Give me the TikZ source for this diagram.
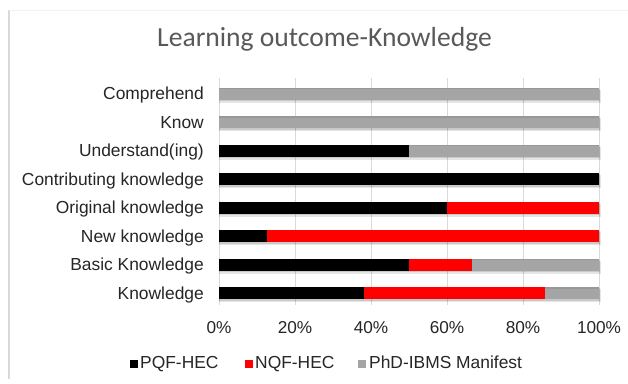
\documentclass[tikz,border=0pt]{standalone}
\usepackage{fontspec}
\setmainfont{Liberation Sans}
\newfontfamily\titlefont{Carlito}
\definecolor{txtgray}{HTML}{262626}
\definecolor{titlegray}{HTML}{595959}
\definecolor{gridgray}{HTML}{D9D9D9}
\definecolor{bargray}{HTML}{A5A5A5}
\definecolor{barred}{HTML}{FF0000}
\tikzset{
  lbl/.style={anchor=base east, inner sep=0pt, text=txtgray, font=\fontsize{17.4}{17.4}\selectfont},
  ticklbl/.style={anchor=base, inner sep=0pt, text=txtgray, font=\fontsize{17.2}{17.2}\selectfont},
  leglbl/.style={anchor=base west, inner sep=0pt, text=txtgray, font=\fontsize{17.4}{17.4}\selectfont},
  gridline/.style={draw=gridgray, line width=0.8pt},
}
\begin{document}
\begin{tikzpicture}[x=1pt,y=-1pt]
\useasboundingbox (0,0) rectangle (628,383);
\fill[white] (0,0) rectangle (628,383);
% chart frame
\draw[draw=gridgray, line width=1.2pt] (9,10) -- (9,379);
\draw[draw=black!5, line width=0.8pt] (9,10) -- (628,10);
% title
\node[anchor=base, inner sep=0pt, text=titlegray, font=\titlefont\fontsize{27.6}{27.6}\selectfont] (title) at (324.5,46) {Learning outcome-Knowledge};
% gridlines
\foreach \p in {0,20,40,60,80,100} {
  \draw[gridline] ({219+3.8*\p},78) -- ({219+3.8*\p},305);
}
% bars: y-centre / black end / red end (percent)
\foreach \yc/\a/\b in {93.5/0/0, 122/0/0, 150.5/50/50, 179/100/100, 207.5/60/100, 236/12.5/100, 264.5/50/66.67, 293/38.1/85.7} {
  \fill[black, opacity=0.10] (219,\yc-4) rectangle (601,\yc+9);
  \fill[black, opacity=0.12] (219,\yc-5) rectangle (600,\yc+7.5);
  \fill[bargray] (219,\yc-6) rectangle (599,\yc+6);
  \fill[black, opacity=0.08] (219,\yc-6) rectangle (599,\yc-4.5);
  \ifdim \b pt>0pt \fill[barred] (219,\yc-6) rectangle ({219+3.8*\b},\yc+6); \fi
  \ifdim \a pt>0pt \fill[black] (219,\yc-6) rectangle ({219+3.8*\a},\yc+6); \fi
}
% category labels
\node[lbl] (l1) at (204,99.5) {Comprehend};
\node[lbl] (l2) at (204,128) {Know};
\node[lbl] (l3) at (204,156.5) {Understand(ing)};
\node[lbl] (l4) at (204,185) {Contributing knowledge};
\node[lbl] (l5) at (204,213.5) {Original knowledge};
\node[lbl] (l6) at (204,242) {New knowledge};
\node[lbl] (l7) at (204,270.5) {Basic Knowledge};
\node[lbl] (l8) at (204,299) {Knowledge};
% axis tick labels
\node[ticklbl] (t0) at (219,333) {0\%};
\node[ticklbl] (t1) at (295,333) {20\%};
\node[ticklbl] (t2) at (371,333) {40\%};
\node[ticklbl] (t3) at (447,333) {60\%};
\node[ticklbl] (t4) at (523,333) {80\%};
\node[ticklbl] (t5) at (599,333) {100\%};
% legend
\fill[black] (130,360) rectangle (138,368);
\node[leglbl] (g1) at (140,368) {PQF-HEC};
\fill[barred] (245,360) rectangle (253,368);
\node[leglbl] (g2) at (255,368) {NQF-HEC};
\fill[bargray] (358,360) rectangle (366,368);
\node[leglbl] (g3) at (369,368) {PhD-IBMS Manifest};
\end{tikzpicture}
\end{document}
